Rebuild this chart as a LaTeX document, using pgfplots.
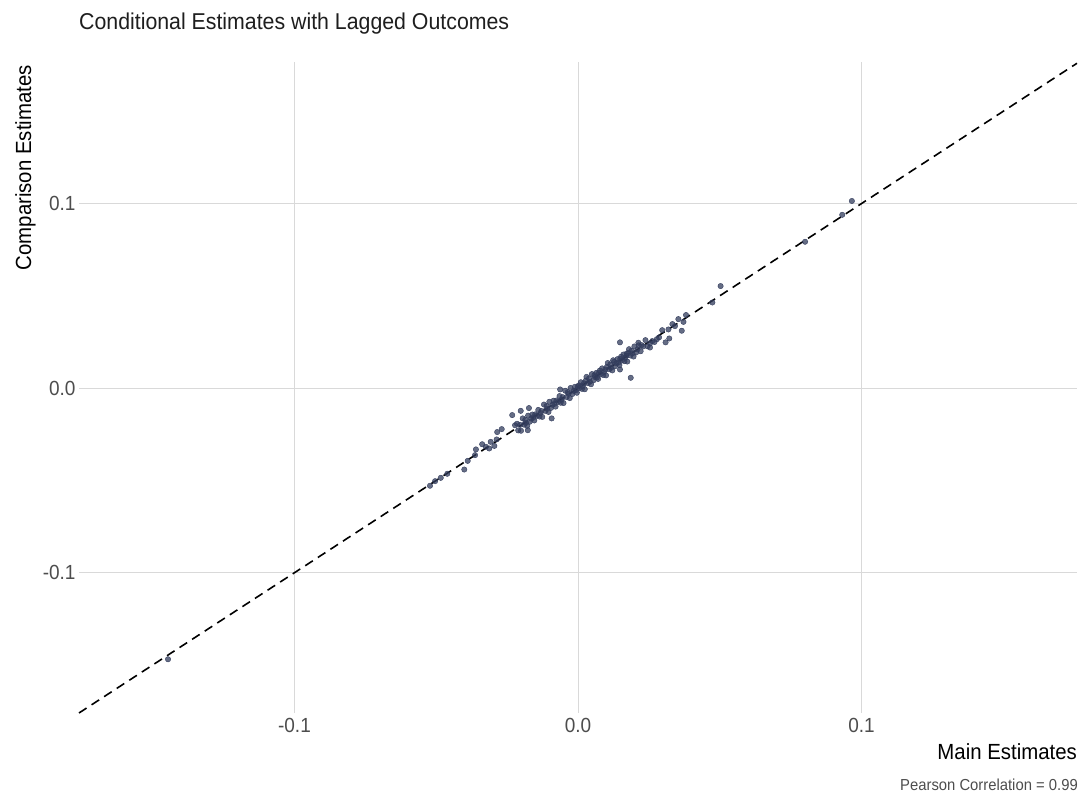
\documentclass[border=0pt]{standalone}
\usepackage{fontspec}
\setmainfont{Liberation Sans}[FakeStretch=0.93]
\usepackage{pgfplots}
\pgfplotsset{compat=1.18}
\definecolor{gridgray}{RGB}{217,217,217}
\definecolor{tickgray}{RGB}{77,77,77}
\definecolor{pts}{RGB}{50,60,92}
\begin{document}
\begin{tikzpicture}[x=1bp,y=1bp]
\useasboundingbox (0,0) rectangle (1084,801);
\begin{axis}[
  at={(79bp,88bp)}, anchor=south west, scale only axis,
  width=998bp, height=651bp,
  xmin=-0.176, xmax=0.176, ymin=-0.176, ymax=0.1767,
  axis line style={draw=none}, tick style={draw=none},
  grid=major, major grid style={color=gridgray, line width=0.8bp},
  xtick={-0.1,0,0.1}, ytick={-0.1,0,0.1},
  xticklabels={-0.1,0.0,0.1}, yticklabels={-0.1,0.0,0.1},
  ticklabel style={font=\fontsize{20.5}{24}\selectfont, text=tickgray},
  xticklabel style={yshift=-2bp},
  /pgf/number format/assume math mode=true,
  clip=false,
]
\addplot[black, line width=1.6bp, dash pattern=on 9bp off 6bp] coordinates {(-0.176,-0.176) (0.176,0.176)};
\addplot[only marks, color=pts, mark=*, mark size=2.7bp, mark options={draw=none, fill=pts, fill opacity=0.75}] coordinates {
(-0.1446,-0.1469)
(-0.0522,-0.0529)(-0.0504,-0.0504)(-0.0484,-0.0486)(-0.0461,-0.0464)(-0.0401,-0.0441)
(-0.0389,-0.0394)(-0.0363,-0.0363)(-0.0360,-0.0332)(-0.0338,-0.0304)(-0.0325,-0.0318)
(-0.0313,-0.0327)(-0.0308,-0.0291)(-0.0295,-0.0313)(-0.0287,-0.0278)(-0.0285,-0.0238)
(-0.0269,-0.0222)(-0.0232,-0.0146)(-0.0202,-0.0123)(-0.0173,-0.0108)(-0.0222,-0.0201)
(-0.0177,-0.0228)(-0.0063,-0.0007)(-0.0093,-0.0164)
(-0.0215,-0.0193)(-0.0211,-0.0229)(-0.0204,-0.0199)(-0.0201,-0.0231)(-0.0195,-0.0164)
(-0.0190,-0.0198)(-0.0186,-0.0172)(-0.0179,-0.0204)(-0.0176,-0.0149)(-0.0170,-0.0182)
(-0.0165,-0.0165)(-0.0161,-0.0143)(-0.0154,-0.0175)(-0.0151,-0.0142)(-0.0145,-0.0149)
(-0.0140,-0.0118)(-0.0136,-0.0154)(-0.0129,-0.0124)(-0.0126,-0.0156)(-0.0120,-0.0089)
(-0.0115,-0.0123)(-0.0111,-0.0097)(-0.0104,-0.0129)(-0.0101,-0.0074)(-0.0095,-0.0107)
(-0.0090,-0.0090)(-0.0086,-0.0068)(-0.0079,-0.0100)(-0.0076,-0.0067)(-0.0070,-0.0074)
(-0.0065,-0.0043)(-0.0061,-0.0079)(-0.0054,-0.0049)(-0.0051,-0.0081)(-0.0045,-0.0014)
(-0.0040,-0.0048)(-0.0036,-0.0022)(-0.0029,-0.0054)(-0.0026,0.0001)(-0.0020,-0.0032)
(-0.0015,-0.0015)(-0.0011,0.0007)(-0.0004,-0.0025)(-0.0001,0.0008)(0.0005,0.0001)
(0.0010,0.0032)(0.0014,-0.0004)(0.0021,0.0026)(0.0024,-0.0006)(0.0030,0.0061)
(0.0035,0.0027)(0.0039,0.0053)(0.0046,0.0021)(0.0049,0.0076)(0.0055,0.0043)
(0.0060,0.0060)(0.0064,0.0082)(0.0071,0.0050)(0.0074,0.0083)(0.0080,0.0076)
(0.0085,0.0107)(0.0089,0.0071)(0.0096,0.0101)(0.0099,0.0069)(0.0105,0.0136)
(0.0110,0.0102)(0.0114,0.0128)(0.0121,0.0096)(0.0124,0.0151)(0.0130,0.0118)
(0.0135,0.0135)(0.0139,0.0157)(0.0146,0.0125)(0.0149,0.0158)(0.0155,0.0151)
(0.0160,0.0182)(0.0164,0.0146)(0.0171,0.0176)(0.0174,0.0144)(0.0180,0.0211)
(0.0185,0.0177)(0.0189,0.0203)(0.0196,0.0171)(0.0199,0.0226)(0.0205,0.0193)
(0.0210,0.0210)(0.0214,0.0232)(0.0221,0.0200)(0.0224,0.0233)(0.0230,0.0226)
(0.0238,0.0260)(0.0245,0.0227)
(-0.0033,-0.0030)(-0.0008,-0.0012)(0.0003,0.0015)(0.0017,0.0012)(0.0027,0.0040)
(0.0042,0.0035)(0.0058,0.0070)(0.0067,0.0058)(0.0077,0.0095)(0.0092,0.0088)
(0.0102,0.0115)(0.0117,0.0110)(0.0127,0.0142)(0.0142,0.0138)(0.0152,0.0170)
(0.0167,0.0165)(0.0177,0.0190)(0.0192,0.0188)(-0.0058,-0.0062)(-0.0083,-0.0085)
(-0.0108,-0.0112)(-0.0132,-0.0135)(-0.0158,-0.0160)(-0.0183,-0.0188)
(0.0148,0.0101)(0.0148,0.0248)(0.0172,0.0188)(0.0186,0.0056)
(0.0213,0.0246)(0.0254,0.0242)(0.0254,0.0220)(0.0262,0.0255)
(0.0270,0.0250)(0.0278,0.0265)(0.0286,0.0275)(0.0297,0.0314)(0.0309,0.0248)
(0.0319,0.0318)(0.0322,0.0269)(0.0333,0.0347)(0.0342,0.0336)(0.0354,0.0374)
(0.0366,0.0311)(0.0372,0.0359)(0.0381,0.0396)(0.0474,0.0464)(0.0503,0.0553)
(0.0801,0.0793)(0.0932,0.0939)(0.0966,0.1014)
};
\end{axis}
\node[anchor=base west, inner sep=0, text={rgb,255:red,30;green,30;blue,30}, font=\fontsize{23}{27}\selectfont] at (79,771) {Conditional Estimates with Lagged Outcomes};
\node[anchor=base east, inner sep=0, font=\fontsize{22}{26}\selectfont] at (1077,41) {Main Estimates};
\node[anchor=base east, inner sep=0, font=\fontsize{16}{19}\selectfont, text=tickgray] at (1078,10) {Pearson Correlation = 0.99};
\node[anchor=base east, inner sep=0, rotate=90, font=\fontsize{22}{26}\selectfont] at (31,736) {Comparison Estimates};
\end{tikzpicture}
\end{document}
